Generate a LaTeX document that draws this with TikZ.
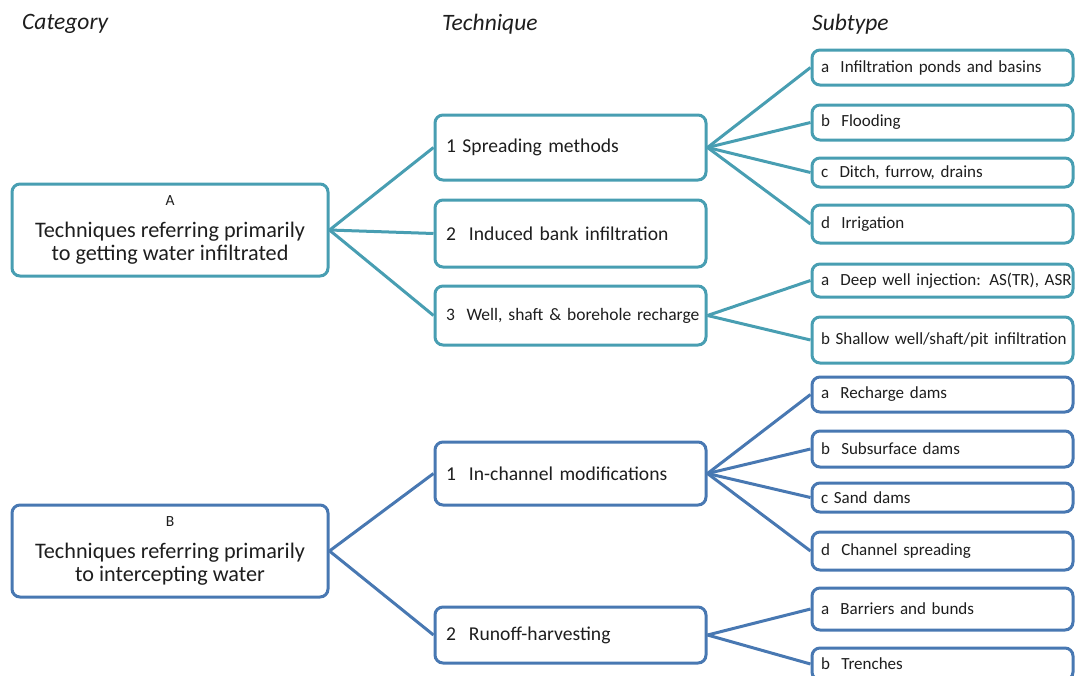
\documentclass[tikz,border=0pt]{standalone}
\usepackage{fontspec}
\setmainfont{Carlito}
\usepackage{xcolor}
\usetikzlibrary{shapes,positioning}
\definecolor{tealc}{RGB}{72,158,178}
\definecolor{bluec}{RGB}{72,120,178}
\definecolor{txtc}{RGB}{30,30,30}
\tikzstyle{block} = [rectangle, draw, fill=white, line width=3pt, rounded corners=8pt,
    text=txtc, inner sep=0pt]
\tikzstyle{cat} = [block, minimum width=316pt, minimum height=92pt, align=center,
    font=\fontsize{22.2}{23}\selectfont]
\tikzstyle{tech} = [block, text width=249pt, inner xsep=11pt, align=left,
    font=\fontsize{19.6}{22}\selectfont]
\tikzstyle{sub} = [block, text width=243pt, inner xsep=9pt, align=left,
    font=\fontsize{17}{19}\selectfont]
\tikzstyle{head} = [font=\fontsize{23.5}{26}\selectfont\itshape, text=txtc, anchor=west,
    inner sep=0pt]

\begin{document}
\begin{tikzpicture}[x=1pt, y=-1pt]
    % Style definitions
    \tikzstyle{tealline} = [draw=tealc, line width=3pt]
    \tikzstyle{blueline} = [draw=bluec, line width=3pt]
    \clip (0,0) rectangle (1075,675);
    \useasboundingbox (0,0) rectangle (1075,675);

    % Column headings
    \node [head] (hcat) at (22,24) {Category};
    \node [head] (htech) at (442,24) {Technique};
    \node [head] (hsub) at (812,24) {Subtype};

    % Category nodes
    \node [cat, draw=tealc] (A) at (170,230) {{\fontsize{15.5}{16}\selectfont A}\\[9pt]
        Techniques referring primarily\\to getting water infiltrated};
    \node [cat, draw=bluec] (B) at (170,551) {{\fontsize{15.5}{16}\selectfont B}\\[9pt]
        Techniques referring primarily\\to intercepting water};

    % Technique nodes
    \node [tech, draw=tealc, minimum height=65pt] (spread) at (570.5,147.5) {1 Spreading methods};
    \node [tech, draw=tealc, minimum height=67pt] (bank) at (570.5,233.5) {2\ \ Induced bank infiltration};
    \node [tech, draw=tealc, minimum height=59pt, font=\fontsize{17.5}{20}\selectfont] (well) at (570.5,315.5) {\mbox{3\ \ Well, shaft \& borehole recharge}};
    \node [tech, draw=bluec, minimum height=63pt] (inchan) at (570.5,473.5) {1\ \ In-channel modifications};
    \node [tech, draw=bluec, minimum height=56pt] (runoff) at (570.5,635) {2\ \ Runoff-harvesting};

    % Subtype nodes
    \node [sub, draw=tealc, minimum height=35pt] (ponds) at (942.5,67.5) {a\ \ Infiltration ponds and basins};
    \node [sub, draw=tealc, minimum height=35pt] (flood) at (942.5,122.5) {b\ \ Flooding};
    \node [sub, draw=tealc, minimum height=29pt] (ditch) at (942.5,172.5) {c\ \ Ditch, furrow, drains};
    \node [sub, draw=tealc, minimum height=38pt] (irrig) at (942.5,224) {d\ \ Irrigation};
    \node [sub, draw=tealc, minimum height=33pt] (deep) at (942.5,280.5) {\mbox{a\ \ Deep well injection: AS(TR), ASR}};
    \node [sub, draw=tealc, minimum height=46pt] (shallow) at (942.5,340) {\mbox{b Shallow well/shaft/pit infiltration}};
    \node [sub, draw=bluec, minimum height=35pt] (rdams) at (942.5,394.5) {a\ \ Recharge dams};
    \node [sub, draw=bluec, minimum height=36pt] (sdams) at (942.5,449) {b\ \ Subsurface dams};
    \node [sub, draw=bluec, minimum height=29pt] (sand) at (942.5,497.5) {c Sand dams};
    \node [sub, draw=bluec, minimum height=38pt] (cspread) at (942.5,551) {d\ \ Channel spreading};
    \node [sub, draw=bluec, minimum height=42pt] (bunds) at (942.5,609) {a\ \ Barriers and bunds};
    \node [sub, draw=bluec, minimum height=32pt] (trench) at (942.5,664) {b\ \ Trenches};

    % Connections
    \path [tealline] (A.east) -- (spread.west);
    \path [tealline] (A.east) -- (bank.west);
    \path [tealline] (A.east) -- (well.west);
    \foreach \s in {ponds,flood,ditch,irrig}
        \path [tealline] (spread.east) -- (\s.west);
    \foreach \s in {deep,shallow}
        \path [tealline] (well.east) -- (\s.west);
    \path [blueline] (B.east) -- (inchan.west);
    \path [blueline] (B.east) -- (runoff.west);
    \foreach \s in {rdams,sdams,sand,cspread}
        \path [blueline] (inchan.east) -- (\s.west);
    \foreach \s in {bunds,trench}
        \path [blueline] (runoff.east) -- (\s.west);
\end{tikzpicture}
\end{document}
